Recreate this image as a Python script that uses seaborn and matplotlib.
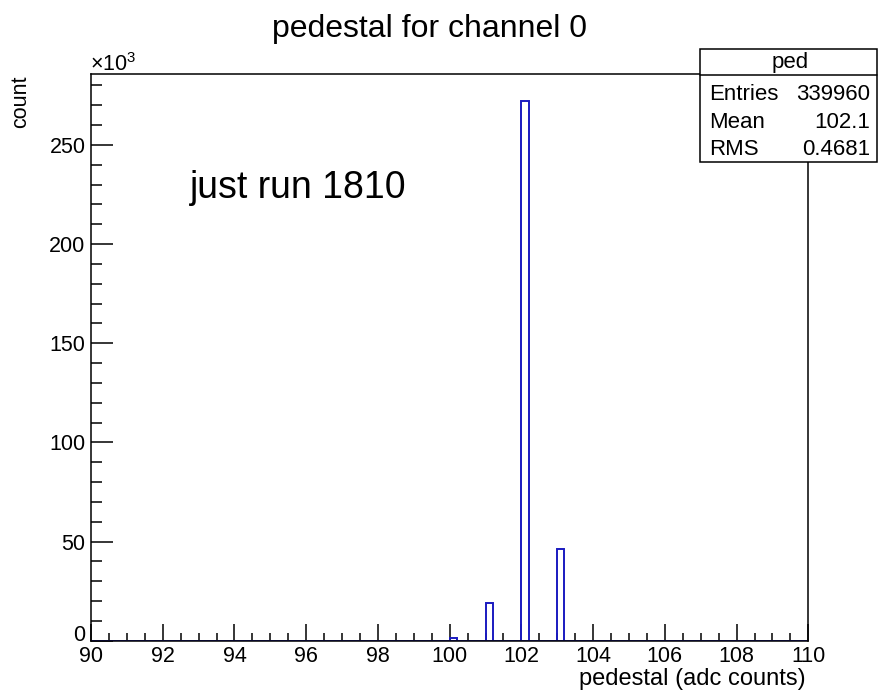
import pandas as pd
import matplotlib
matplotlib.use("Agg")
import matplotlib.pyplot as plt
from matplotlib.patches import Rectangle
from matplotlib.ticker import MultipleLocator, FuncFormatter
import seaborn as sns

# histogram content (bin centres of the filled 0.2-wide bins and their counts)
bin_centers = [100.1, 101.1, 102.1, 103.1]
counts = [1500, 19000, 272000, 46100]
n_bins = 100
x_range = (90, 110)

x_major = [90, 92, 94, 96, 98, 100, 102, 104, 106, 108, 110]
y_major = [0, 50000, 100000, 150000, 200000, 250000]

title = "pedestal for channel 0"
stats_name = "ped"
stats_rows = [("Entries", "339960"), ("Mean", "102.1"), ("RMS", "0.4681")]
note = "just run 1810"

sns.set_style("white")
plt.rcParams["font.family"] = ["Liberation Sans", "DejaVu Sans"]
plt.rcParams["mathtext.fontset"] = "custom"
plt.rcParams["mathtext.rm"] = "Liberation Sans"
plt.rcParams["text.color"] = "black"
plt.rcParams["xtick.color"] = "black"
plt.rcParams["ytick.color"] = "black"

W, H = 879, 691
fig = plt.figure(figsize=(W / 100, H / 100), dpi=100)
ax = fig.add_axes([91 / W, 1 - 640.7 / H, (808.3 - 91) / W, (640.7 - 74.3) / H])

df = pd.DataFrame({"ped": bin_centers, "n": counts})
sns.histplot(data=df, x="ped", weights="n", bins=n_bins, binrange=x_range,
             element="bars", fill=False, color="#1a1ac0", linewidth=1.4, ax=ax)

ax.set_xlim(*x_range)
ax.set_ylim(0, 1.05 * max(counts))
ax.set_xlabel("")
ax.set_ylabel("")
ax.xaxis.set_major_locator(plt.FixedLocator(x_major))
ax.xaxis.set_minor_locator(MultipleLocator(0.5))
ax.yaxis.set_major_locator(plt.FixedLocator(y_major))
ax.yaxis.set_minor_locator(MultipleLocator(10000))
ax.yaxis.set_major_formatter(FuncFormatter(lambda v, p: f"{v / 1000:g}"))

for sp in ax.spines.values():
    sp.set_visible(True)
    sp.set_color("black")
    sp.set_linewidth(1.1)
ax.tick_params(axis="x", which="major", direction="in", length=12, width=1.1,
               labelsize=15.5, pad=4, bottom=True, top=False, colors="black")
ax.tick_params(axis="x", which="minor", direction="in", length=6, width=1.1,
               bottom=True, top=False, colors="black")
ax.tick_params(axis="y", which="major", direction="in", length=15.6, width=1.1,
               labelsize=15.5, pad=4, left=True, right=False, colors="black")
ax.tick_params(axis="y", which="minor", direction="in", length=7.8, width=1.1,
               left=True, right=False, colors="black")
# keep the "0" label sitting on the axis line, clear of the "90" below it
ax.get_yticklabels()[0].set_verticalalignment("baseline")

fig.text(430 / W, 1 - 37 / H, title, ha="center", va="baseline", fontsize=23)
fig.text(21 / W, 1 - 75 / H, "count", rotation=90, ha="center", va="top", fontsize=15.5)
fig.text(90 / W, 1 - 71 / H, r"$\mathregular{\times10^{3}}$", ha="left", va="baseline",
         fontsize=15.5)
fig.text(806 / W, 1 - 685 / H, "pedestal (adc counts)", ha="right", va="baseline",
         fontsize=17)
fig.text(190 / W, 1 - 198 / H, note, ha="left", va="baseline", fontsize=27)

# stats box
bx0, bx1, by0, by1, hline = 700, 877, 49, 162, 75
fig.patches.append(Rectangle((bx0 / W, 1 - by1 / H), (bx1 - bx0) / W, (by1 - by0) / H,
                             transform=fig.transFigure, facecolor="white",
                             edgecolor="black", linewidth=1.1, zorder=5))
fig.add_artist(plt.Line2D([bx0 / W, bx1 / W], [1 - hline / H, 1 - hline / H],
                          transform=fig.transFigure, color="black", linewidth=1.1, zorder=6))
fig.text(790 / W, 1 - 68 / H, stats_name, ha="center", va="baseline", fontsize=16, zorder=7)
for i, (lab, val) in enumerate(stats_rows):
    yb = 1 - (100 + 27.5 * i) / H
    fig.text(709 / W, yb, lab, ha="left", va="baseline", fontsize=16, zorder=7)
    fig.text(870 / W, yb, val, ha="right", va="baseline", fontsize=16, zorder=7)

fig.savefig("out.png", dpi=100)
